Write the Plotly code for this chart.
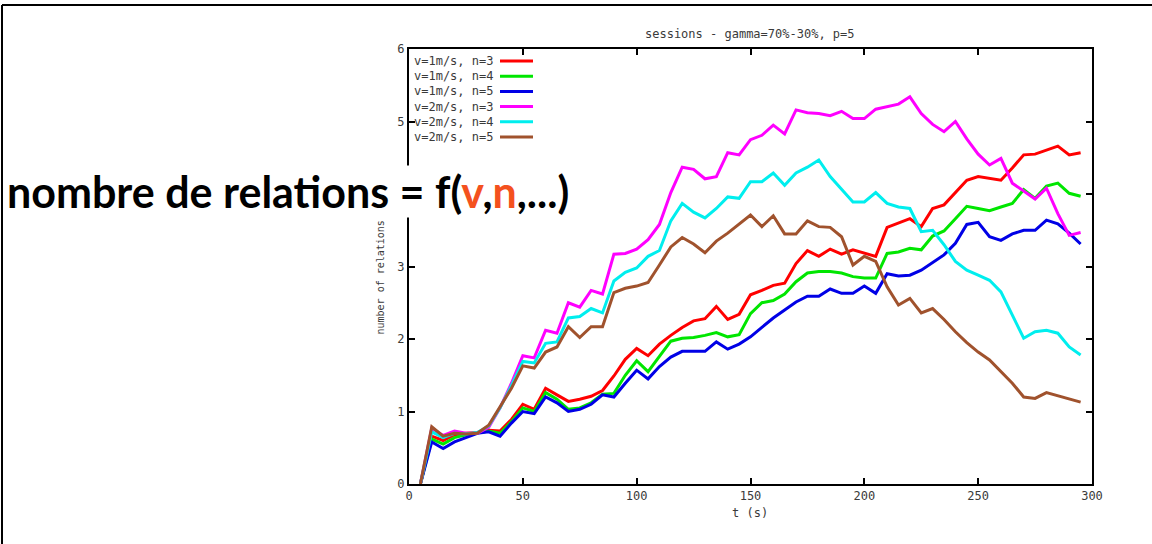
import plotly.graph_objects as go

# ---------------- data ----------------
t = list(range(5, 300, 5))

series_names = ["v=1m/s, n=3", "v=1m/s, n=4", "v=1m/s, n=5",
                "v=2m/s, n=3", "v=2m/s, n=4", "v=2m/s, n=5"]
series_colors = ["#ff0000", "#00e600", "#0000e6", "#ff00ff", "#00eeee", "#a0522d"]

red_v1_n3 = [0, 0.66, 0.60, 0.68, 0.70, 0.71, 0.74, 0.73, 0.89, 1.10, 1.03, 1.32, 1.23, 1.14, 1.17,
             1.21, 1.29, 1.49, 1.72, 1.87, 1.77, 1.93, 2.05, 2.16, 2.25, 2.28, 2.45, 2.27, 2.34, 2.61,
             2.67, 2.74, 2.77, 3.04, 3.22, 3.14, 3.24, 3.17, 3.23, 3.19, 3.14, 3.54, 3.60, 3.66, 3.55,
             3.80, 3.85, 4.02, 4.19, 4.24, 4.22, 4.19, 4.36, 4.54, 4.55, 4.61, 4.66, 4.54, 4.57]
green_v1_n4 = [0, 0.62, 0.55, 0.64, 0.68, 0.70, 0.73, 0.70, 0.86, 1.05, 1.00, 1.26, 1.17, 1.03, 1.05,
               1.12, 1.24, 1.25, 1.50, 1.70, 1.55, 1.76, 1.97, 2.01, 2.02, 2.05, 2.09, 2.03, 2.06, 2.35,
               2.50, 2.53, 2.62, 2.79, 2.91, 2.93, 2.93, 2.91, 2.86, 2.84, 2.84, 3.18, 3.20, 3.25, 3.23,
               3.42, 3.49, 3.66, 3.83, 3.80, 3.77, 3.82, 3.87, 4.06, 3.94, 4.11, 4.15, 4.01, 3.97]
blue_v1_n5 = [0, 0.58, 0.49, 0.58, 0.64, 0.70, 0.72, 0.66, 0.84, 1.00, 0.97, 1.20, 1.12, 1.00, 1.03,
              1.10, 1.23, 1.20, 1.39, 1.57, 1.45, 1.62, 1.75, 1.83, 1.83, 1.83, 1.96, 1.86, 1.93, 2.03,
              2.16, 2.29, 2.40, 2.51, 2.59, 2.59, 2.69, 2.63, 2.63, 2.73, 2.63, 2.90, 2.87, 2.88, 2.95,
              3.05, 3.16, 3.32, 3.58, 3.61, 3.41, 3.36, 3.45, 3.50, 3.50, 3.64, 3.59, 3.46, 3.31]
magenta_v2_n3 = [0, 0.77, 0.67, 0.73, 0.70, 0.70, 0.78, 1.05, 1.39, 1.77, 1.74, 2.12, 2.08, 2.50, 2.44,
                 2.67, 2.62, 3.17, 3.18, 3.24, 3.37, 3.58, 4.02, 4.37, 4.34, 4.21, 4.24, 4.57, 4.54, 4.75,
                 4.81, 4.95, 4.83, 5.16, 5.12, 5.11, 5.08, 5.14, 5.04, 5.04, 5.17, 5.21, 5.24, 5.34, 5.11,
                 4.96, 4.86, 5.00, 4.76, 4.55, 4.40, 4.49, 4.15, 4.04, 3.93, 4.08, 3.73, 3.43, 3.47]
cyan_v2_n4 = [0, 0.72, 0.64, 0.70, 0.69, 0.71, 0.80, 1.05, 1.36, 1.69, 1.67, 1.94, 1.96, 2.29, 2.31,
              2.42, 2.36, 2.80, 2.92, 2.98, 3.14, 3.22, 3.63, 3.87, 3.75, 3.67, 3.80, 3.96, 3.94, 4.17,
              4.17, 4.29, 4.12, 4.29, 4.37, 4.47, 4.24, 4.06, 3.89, 3.89, 4.02, 3.87, 3.82, 3.80, 3.48,
              3.50, 3.30, 3.07, 2.95, 2.88, 2.81, 2.65, 2.33, 2.01, 2.10, 2.12, 2.08, 1.89, 1.78]
brown_v2_n5 = [0, 0.79, 0.66, 0.70, 0.69, 0.70, 0.81, 1.07, 1.32, 1.63, 1.60, 1.82, 1.89, 2.17, 2.02,
               2.17, 2.17, 2.64, 2.70, 2.73, 2.78, 3.02, 3.27, 3.40, 3.31, 3.19, 3.35, 3.46, 3.58, 3.71,
               3.55, 3.70, 3.45, 3.45, 3.63, 3.55, 3.54, 3.41, 3.02, 3.14, 3.07, 2.72, 2.47, 2.56, 2.36,
               2.42, 2.27, 2.10, 1.95, 1.82, 1.71, 1.55, 1.39, 1.20, 1.18, 1.26, 1.22, 1.17, 1.13]

series_values = [red_v1_n3, green_v1_n4, blue_v1_n5, magenta_v2_n3, cyan_v2_n4, brown_v2_n5]

x_ticks = [0, 50, 100, 150, 200, 250, 300]
y_ticks = [0, 1, 2, 3, 4, 5, 6]
# the "4" label sits under the slide's overlay text in the reference
y_tick_labels = ["0", "1", "2", "3", "", "5", "6"]

title_text = "sessions - gamma=70%-30%, p=5"
x_title = "t (s)"
y_title = "number of relations"
overlay_text = ("<b>nombre de relations = f(<span style='color:#f4511e'>v</span>,"
                "<span style='color:#f4511e'>n</span>,...)</b>")

# ---------------- figure ----------------
W, H = 1152, 544
L, R, T, B = 409, 60, 49, 60
pw, ph = W - L - R, H - T - B


def px_to_paper_x(px):
    return (px - L) / pw


def py_to_paper_y(py):
    return (H - B - py) / ph


mono = "DejaVu Sans Mono"
txt_col = "#3a3a3a"

fig = go.Figure()
for name, col, vals in zip(series_names, series_colors, series_values):
    fig.add_trace(go.Scatter(x=t, y=vals, mode="lines", name=name,
                             line=dict(color=col, width=3), showlegend=False))

axis_common = dict(showgrid=False, zeroline=False, showline=True, linecolor="black",
                   linewidth=2, mirror="ticks", ticks="inside", ticklen=6, tickwidth=2,
                   tickcolor="black", tickfont=dict(family=mono, size=12, color=txt_col))

fig.update_layout(
    width=W, height=H,
    margin=dict(l=L, r=R, t=T, b=B),
    plot_bgcolor="white", paper_bgcolor="white",
    xaxis=dict(range=[0, 300], tickvals=x_ticks, **axis_common),
    yaxis=dict(range=[0, 6], tickvals=y_ticks, ticktext=y_tick_labels, **axis_common),
)

annotations = []
shapes = []

# title and axis titles
annotations.append(dict(text=title_text, xref="paper", yref="paper",
                        x=px_to_paper_x(750), y=py_to_paper_y(25), showarrow=False,
                        font=dict(family=mono, size=12, color=txt_col)))
annotations.append(dict(text=x_title, xref="paper", yref="paper",
                        x=px_to_paper_x(750), y=py_to_paper_y(522), showarrow=False,
                        font=dict(family=mono, size=12, color=txt_col)))
annotations.append(dict(text=y_title, xref="paper", yref="paper", textangle=-90,
                        x=px_to_paper_x(372), y=py_to_paper_y(278), showarrow=False,
                        font=dict(family=mono, size=10, color=txt_col)))

# gnuplot-style key: text then line sample
row0, row_step = 61, 15.2
for i, (name, col) in enumerate(zip(series_names, series_colors)):
    yy = py_to_paper_y(row0 + i * row_step)
    annotations.append(dict(text=name, xref="paper", yref="paper",
                            x=px_to_paper_x(495), y=yy, xanchor="right", yanchor="middle",
                            showarrow=False, font=dict(family=mono, size=12, color=txt_col)))
    shapes.append(dict(type="line", xref="paper", yref="paper",
                       x0=px_to_paper_x(500), x1=px_to_paper_x(533), y0=yy, y1=yy,
                       line=dict(color=col, width=3)))

# slide overlay text
annotations.append(dict(text=overlay_text, xref="paper", yref="paper",
                        x=px_to_paper_x(6), y=py_to_paper_y(192), xanchor="left",
                        yanchor="middle", showarrow=False, bgcolor="white", borderpad=0,
                        font=dict(family="Lato", size=43, color="black")))

# slide frame lines
shapes.append(dict(type="line", xref="paper", yref="paper",
                   x0=px_to_paper_x(2), x1=px_to_paper_x(2),
                   y0=py_to_paper_y(5), y1=py_to_paper_y(544),
                   line=dict(color="black", width=2)))
shapes.append(dict(type="line", xref="paper", yref="paper",
                   x0=px_to_paper_x(2), x1=px_to_paper_x(1152),
                   y0=py_to_paper_y(5), y1=py_to_paper_y(5),
                   line=dict(color="black", width=2)))

fig.update_layout(annotations=annotations, shapes=shapes)
fig.write_html("out.html", config={"displayModeBar": False},
               post_script="document.body.style.margin='0';")
